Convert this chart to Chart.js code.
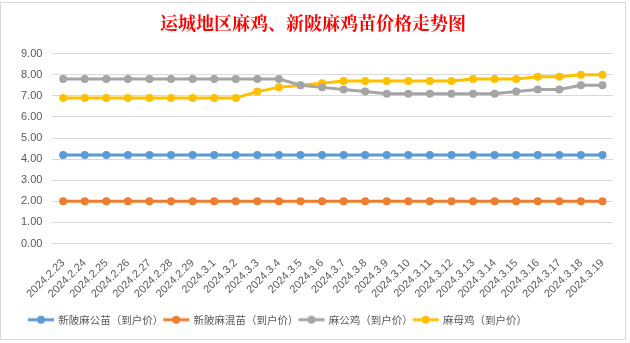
<!DOCTYPE html>
<html>
<head>
<meta charset="utf-8">
<script src="https://cdn.jsdelivr.net/npm/chart.js@4/dist/chart.umd.min.js"></script>
<style>
  body { margin: 0; background: #fff; }
  #wrap { position: absolute; left: 0; top: 2px; width: 626px; height: 338px; border: 1px solid #d9d9d9; box-sizing: border-box; }
</style>
</head>
<body>
<div id="wrap"><canvas id="myChart" width="624" height="336"></canvas></div>
<script>
var dates = ['2024.2.23','2024.2.24','2024.2.25','2024.2.26','2024.2.27','2024.2.28','2024.2.29',
  '2024.3.1','2024.3.2','2024.3.3','2024.3.4','2024.3.5','2024.3.6','2024.3.7','2024.3.8','2024.3.9',
  '2024.3.10','2024.3.11','2024.3.12','2024.3.13','2024.3.14','2024.3.15','2024.3.16','2024.3.17','2024.3.18','2024.3.19'];

var maleChick  = [4.2,4.2,4.2,4.2,4.2,4.2,4.2,4.2,4.2,4.2,4.2,4.2,4.2,4.2,4.2,4.2,4.2,4.2,4.2,4.2,4.2,4.2,4.2,4.2,4.2,4.2];
var mixedChick = [2,2,2,2,2,2,2,2,2,2,2,2,2,2,2,2,2,2,2,2,2,2,2,2,2,2];
var rooster    = [7.8,7.8,7.8,7.8,7.8,7.8,7.8,7.8,7.8,7.8,7.8,7.5,7.4,7.3,7.2,7.1,7.1,7.1,7.1,7.1,7.1,7.2,7.3,7.3,7.5,7.5];
var hen        = [6.9,6.9,6.9,6.9,6.9,6.9,6.9,6.9,6.9,7.2,7.4,7.5,7.6,7.7,7.7,7.7,7.7,7.7,7.7,7.8,7.8,7.8,7.9,7.9,8.0,8.0];

var seriesNames = ['新陂麻公苗（到户价）','新陂麻混苗（到户价）','麻公鸡（到户价）','麻母鸡（到户价）'];
var colors = ['#5b9bd5','#ed7d31','#a5a5a5','#ffc000'];

// legend marker: short line with a dot in the middle
function marker(color){
  var c = document.createElement('canvas');
  c.width = 28; c.height = 10;
  var ctx = c.getContext('2d');
  ctx.strokeStyle = color; ctx.lineWidth = 3;
  ctx.beginPath(); ctx.moveTo(1,5); ctx.lineTo(27,5); ctx.stroke();
  ctx.fillStyle = color;
  ctx.beginPath(); ctx.arc(14,5,4,0,Math.PI*2); ctx.fill();
  return c;
}

function makeSet(i, data){
  return {
    label: seriesNames[i],
    data: data,
    borderColor: colors[i],
    backgroundColor: colors[i],
    borderWidth: 3,
    pointRadius: 4,
    pointBorderWidth: 0,
    pointStyle: 'circle',
    tension: 0
  };
}

var ds = [makeSet(0, maleChick), makeSet(1, mixedChick), makeSet(2, rooster), makeSet(3, hen)];

var cjkFont = '"Noto Sans CJK SC","Noto Sans",sans-serif';
var numFont = '"Liberation Sans","Noto Sans",sans-serif';

// nudge the legend row so it starts where the original one does
var legendShift = {
  id: 'legendShift',
  afterLayout: function(chart){ chart.legend.left += 17; }
};

new Chart(document.getElementById('myChart').getContext('2d'), {
  type: 'line',
  data: { labels: dates, datasets: ds },
  plugins: [legendShift],
  options: {
    responsive: false,
    animation: false,
    layout: { padding: { left: 10, right: 10, top: 0, bottom: 4 } },
    plugins: {
      title: {
        display: true,
        text: '运城地区麻鸡、新陂麻鸡苗价格走势图',
        color: '#ff0000',
        font: { size: 18, weight: 'bold', family: '"Noto Serif CJK SC","Noto Sans CJK SC",serif' },
        padding: { top: 9, bottom: 20 }
      },
      legend: {
        position: 'bottom',
        align: 'start',
        labels: {
          color: '#595959',
          font: { size: 10.5, family: cjkFont },
          usePointStyle: true,
          boxHeight: 10,
          pointStyleWidth: 24,
          padding: 1,
          generateLabels: function(chart){
            return chart.data.datasets.map(function(d, i){
              return { text: d.label, pointStyle: marker(colors[i]), fillStyle: colors[i], strokeStyle: colors[i], lineWidth: 0, datasetIndex: i, fontColor: '#595959' };
            });
          }
        }
      },
      tooltip: { enabled: false }
    },
    scales: {
      x: {
        offset: true,
        grid: { display: false, drawTicks: false },
        border: { display: false },
        ticks: { color: '#595959', font: { size: 11, family: numFont }, minRotation: 45, maxRotation: 45, autoSkip: false, padding: 13 }
      },
      y: {
        min: 0, max: 9,
        grid: { color: '#d9d9d9', drawTicks: false },
        border: { display: false },
        ticks: { stepSize: 1, color: '#595959', font: { size: 11, family: numFont }, padding: 10,
          callback: function(v){ return v.toFixed(2); } }
      }
    }
  }
});
</script>
</body>
</html>
